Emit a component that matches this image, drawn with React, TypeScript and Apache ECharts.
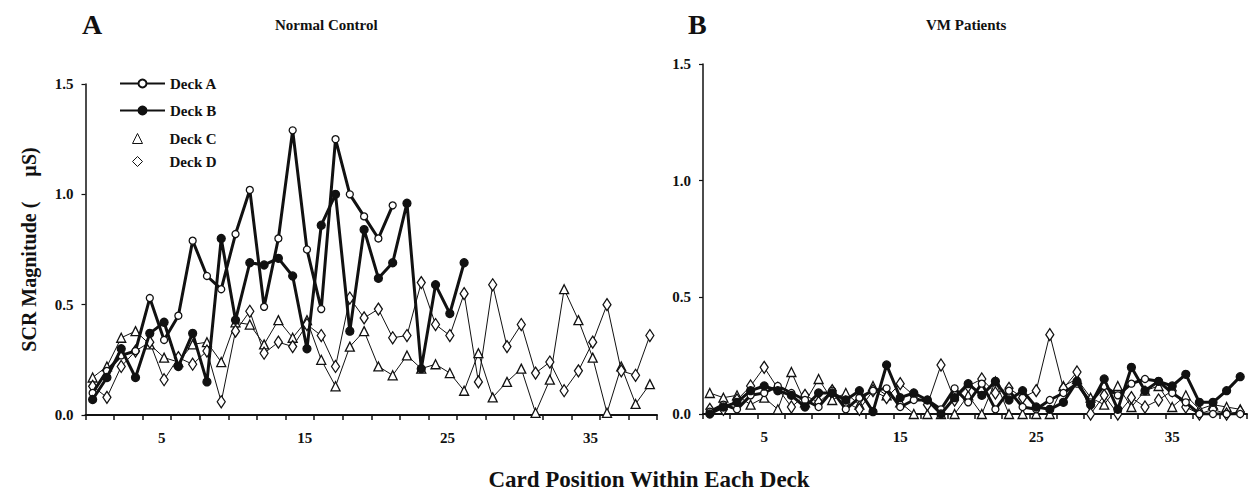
import React, { useEffect, useRef } from "react";
import * as echarts from "echarts";

// ---------- data ----------
const cards = [
  "1", "2", "3", "4", "5", "6", "7", "8", "9", "10",
  "11", "12", "13", "14", "15", "16", "17", "18", "19", "20",
  "21", "22", "23", "24", "25", "26", "27", "28", "29", "30",
  "31", "32", "33", "34", "35", "36", "37", "38", "39", "40",
];
const xTickLabels = ["5", "15", "25", "35"];
const yTicks = [0, 0.5, 1.0, 1.5];

const deckNames = ["Deck A", "Deck B", "Deck C", "Deck D"];

// Panel A: Normal Control
const normalDeckA = [
  0.10, 0.20, 0.27, 0.29, 0.53, 0.34, 0.45, 0.79, 0.63, 0.57,
  0.82, 1.02, 0.49, 0.80, 1.29, 0.75, 0.48, 1.25, 1.00, 0.90,
  0.80, 0.95,
];
const normalDeckB = [
  0.07, 0.17, 0.30, 0.17, 0.37, 0.42, 0.22, 0.37, 0.15, 0.80,
  0.43, 0.69, 0.68, 0.71, 0.63, 0.30, 0.86, 1.00, 0.38, 0.84,
  0.62, 0.69, 0.96, 0.21, 0.59, 0.46, 0.69,
];
const normalDeckC = [
  0.17, 0.22, 0.35, 0.38, 0.32, 0.26, 0.24, 0.32, 0.33, 0.24,
  0.42, 0.41, 0.32, 0.43, 0.35, 0.43, 0.25, 0.13, 0.31, 0.38,
  0.22, 0.18, 0.27, 0.21, 0.23, 0.19, 0.11, 0.28, 0.08, 0.15,
  0.21, 0.01, 0.16, 0.57, 0.43, 0.26, 0.01, 0.22, 0.05, 0.14,
];
const normalDeckD = [
  0.13, 0.08, 0.22, 0.29, 0.33, 0.16, 0.26, 0.23, 0.29, 0.06,
  0.38, 0.47, 0.28, 0.33, 0.31, 0.41, 0.36, 0.22, 0.53, 0.44,
  0.48, 0.35, 0.36, 0.60, 0.41, 0.36, 0.55, 0.15, 0.59, 0.31,
  0.41, 0.19, 0.24, 0.11, 0.20, 0.33, 0.50, 0.20, 0.18, 0.36,
];

// Panel B: VM Patients
const vmDeckA = [
  0.01, 0.04, 0.02, 0.08, 0.09, 0.12, 0.09, 0.06, 0.03, 0.10,
  0.02, 0.07, 0.10, 0.11, 0.03, 0.06, 0.06, 0.02, 0.11, 0.05,
  0.13, 0.02, 0.10, 0.03, 0.02, 0.06, 0.09, 0.13, 0.05, 0.12,
  0.08, 0.13, 0.15, 0.14, 0.09, 0.05, 0.00, 0.00, 0.00, 0.00,
];
const vmDeckB = [
  0.00, 0.03, 0.05, 0.10, 0.12, 0.10, 0.08, 0.03, 0.09, 0.09,
  0.06, 0.10, 0.01, 0.21, 0.07, 0.09, 0.06, 0.00, 0.07, 0.13,
  0.08, 0.14, 0.06, 0.10, 0.03, 0.02, 0.05, 0.14, 0.04, 0.15,
  0.02, 0.20, 0.10, 0.14, 0.12, 0.17, 0.05, 0.05, 0.10, 0.16,
];
const vmDeckC = [
  0.09, 0.07, 0.08, 0.04, 0.07, 0.02, 0.18, 0.05, 0.15, 0.06,
  0.09, 0.04, 0.12, 0.08, 0.05, 0.00, 0.00, 0.00, 0.00, 0.08,
  0.00, 0.14, 0.00, 0.00, 0.00, 0.00, 0.12, 0.15, 0.07, 0.04,
  0.12, 0.03, 0.10, 0.12, 0.03, 0.08, 0.02, 0.04, 0.03, 0.02,
];
const vmDeckD = [
  0.02, 0.02, 0.06, 0.12, 0.20, 0.11, 0.03, 0.08, 0.05, 0.10,
  0.05, 0.02, 0.10, 0.07, 0.13, 0.08, 0.04, 0.21, 0.06, 0.12,
  0.15, 0.09, 0.11, 0.07, 0.10, 0.34, 0.11, 0.18, 0.00, 0.08,
  0.00, 0.07, 0.03, 0.06, 0.10, 0.03, 0.00, 0.02, 0.00, 0.01,
];

// ---------- styling ----------
const FONT = '"Liberation Serif", "Times New Roman", "DejaVu Serif", serif';
const INK = "#111";

const deckStyle: Record<string, any> = {
  "Deck A": { symbol: "circle", symbolSize: 7, width: 3, fill: "#fff", z: 4 },
  "Deck B": { symbol: "circle", symbolSize: 8, width: 3, fill: INK, z: 5 },
  "Deck C": { symbol: "triangle", symbolSize: [9, 9], width: 1, fill: "#fff", z: 3 },
  "Deck D": { symbol: "diamond", symbolSize: [8, 12], width: 1, fill: "#fff", z: 3 },
};

function makeSeries(name: string, data: number[], idx: number) {
  const s = deckStyle[name];
  return {
    type: "line",
    name,
    data,
    xAxisIndex: idx,
    yAxisIndex: idx,
    symbol: s.symbol,
    symbolSize: s.symbolSize,
    showSymbol: true,
    showAllSymbol: true,
    z: s.z,
    lineStyle: { color: INK, width: s.width },
    itemStyle: { color: s.fill, borderColor: INK, borderWidth: 1.3 },
    emphasis: { disabled: true },
  };
}

function xAxis(gridIndex: number, shift: number) {
  return {
    type: "category",
    gridIndex,
    data: cards,
    boundaryGap: true,
    axisLine: { show: true, lineStyle: { color: INK, width: 2 } },
    axisTick: { show: true, interval: 1, length: 5, lineStyle: { color: INK, width: 1.5 } },
    axisLabel: {
      interval: (_i: number, v: string) => xTickLabels.includes(v),
      margin: 15,
      padding: [0, 0, 0, shift],
      fontFamily: FONT,
      fontWeight: "bold",
      fontSize: 15,
      color: INK,
    },
    splitLine: { show: false },
  };
}

function yAxis(gridIndex: number, withName: boolean) {
  return {
    type: "value",
    gridIndex,
    min: yTicks[0],
    max: yTicks[yTicks.length - 1],
    interval: 0.5,
    axisLine: { show: true, lineStyle: { color: INK, width: 1.5 } },
    axisTick: { show: true, length: 4, lineStyle: { color: INK, width: 1.2 } },
    splitLine: { show: false },
    axisLabel: {
      formatter: (v: number) => v.toFixed(1),
      margin: 12,
      fontFamily: FONT,
      fontWeight: "bold",
      fontSize: 15,
      color: INK,
    },
    name: withName ? "SCR Magnitude (\u00A0\u00A0\u00A0\u00A0\u00A0µS)" : "",
    nameLocation: "middle",
    nameGap: 47,
    nameTextStyle: { fontFamily: FONT, fontWeight: "bold", fontSize: 20, color: INK },
  };
}

const legendText = { fontFamily: FONT, fontWeight: "bold", fontSize: 15, color: INK };

export default function App() {
  const ref = useRef<HTMLDivElement>(null);
  useEffect(() => {
    if (!ref.current) return;
    const chart = echarts.init(ref.current, null, { renderer: "svg" });
    const normal = [normalDeckA, normalDeckB, normalDeckC, normalDeckD];
    const vm = [vmDeckA, vmDeckB, vmDeckC, vmDeckD];
    const order = [2, 3, 0, 1];
    const series: any[] = [];
    order.forEach((k) => series.push(makeSeries(deckNames[k], normal[k], 0)));
    order.forEach((k) => series.push(makeSeries(deckNames[k], vm[k], 1)));

    chart.setOption({
      animation: false,
      backgroundColor: "#fff",
      title: [
        { text: "A", left: 82, top: 10, padding: 0, textStyle: { fontFamily: FONT, fontWeight: "bold", fontSize: 28, color: INK } },
        { text: "Normal Control", left: 275, top: 17, padding: 0, textStyle: { fontFamily: FONT, fontWeight: "bold", fontSize: 15, color: INK } },
        { text: "B", left: 688, top: 10, padding: 0, textStyle: { fontFamily: FONT, fontWeight: "bold", fontSize: 28, color: INK } },
        { text: "VM Patients", left: 926, top: 17, padding: 0, textStyle: { fontFamily: FONT, fontWeight: "bold", fontSize: 15, color: INK } },
      ],
      legend: [
        {
          data: [deckNames[0], deckNames[1]],
          orient: "vertical",
          left: 119,
          top: 76,
          padding: 0,
          itemWidth: 45,
          itemHeight: 10,
          itemGap: 12,
          selectedMode: false,
          textStyle: legendText,
        },
        {
          data: [
            { name: deckNames[2], icon: "triangle", itemStyle: { color: "#fff", borderColor: INK, borderWidth: 1 } },
            { name: deckNames[3], icon: "diamond", itemStyle: { color: "#fff", borderColor: INK, borderWidth: 1 } },
          ],
          orient: "vertical",
          left: 132,
          top: 131,
          padding: 0,
          itemWidth: 10,
          itemHeight: 10,
          itemGap: 8,
          selectedMode: false,
          textStyle: { ...legendText, padding: [0, 0, 0, 22] },
        },
      ],
      grid: [
        { left: 85.5, top: 84, width: 571.5, height: 331 },
        { left: 703, top: 64, width: 544, height: 350 },
      ],
      xAxis: [xAxis(0, 24), xAxis(1, 0)],
      yAxis: [yAxis(0, true), yAxis(1, false)],
      graphic: [
        {
          type: "text",
          x: 649,
          y: 479,
          style: {
            text: "Card Position Within Each Deck",
            font: `bold 23px ${FONT}`,
            fill: INK,
            textAlign: "center",
            textVerticalAlign: "middle",
          },
        },
      ],
      series,
    });
    return () => chart.dispose();
  }, []);
  return (
    <div
      ref={ref}
      style={{ position: "absolute", left: 0, top: 0, width: 1249, height: 492 }}
    />
  );
}
